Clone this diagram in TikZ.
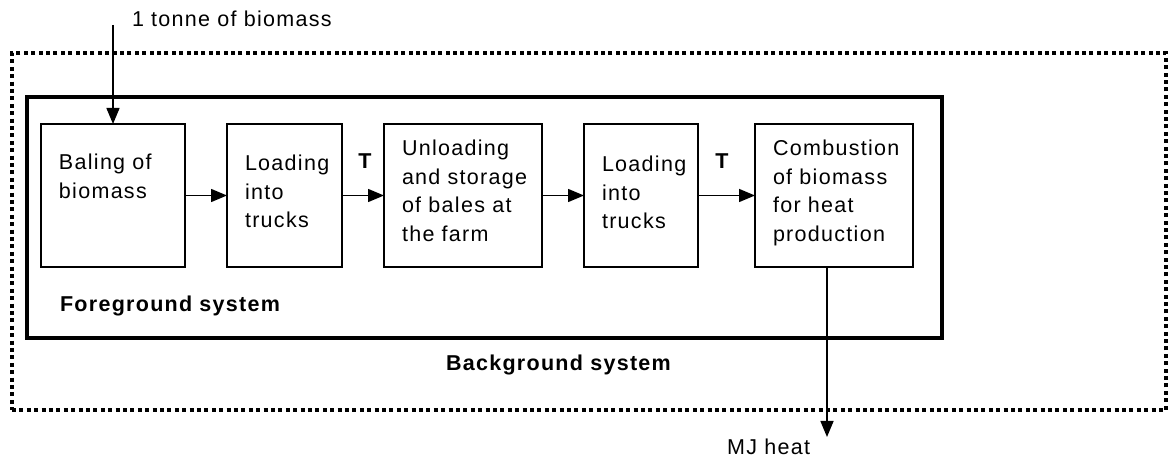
\documentclass[tikz,border=0pt]{standalone}
\usepackage{fontspec}
\setmainfont{Liberation Sans}[LetterSpace=6]
\usetikzlibrary{arrows.meta,calc}
\begin{document}
\begin{tikzpicture}[x=1bp,y=-1bp,
  every node/.style={inner sep=0pt, outer sep=0pt, font=\fontsize{21.5bp}{28.5bp}\selectfont},
  stagebox/.style={draw, line width=1.5bp, minimum height=143bp, rectangle},
  stagetext/.style={anchor=north west, align=left},
  flow/.style={line width=1.5bp, -{Triangle[length=16bp,width=13bp]}},
  lbl/.style={font=\fontsize{21.5bp}{28.5bp}\selectfont\bfseries}
]
\useasboundingbox (0,0) rectangle (1168,462);
% system boundaries
\node[draw, line width=4bp, dash pattern=on 4bp off 3.4bp, minimum width=1154bp, minimum height=357bp] (bg) at (589,231.5) {};
\node[draw, line width=4.5bp, minimum width=915bp, minimum height=241bp] (fg) at (484.5,217.5) {};
% process boxes
\node[stagebox, minimum width=144bp] (b1) at (113,195.5) {};
\node[stagebox, minimum width=115bp] (b2) at (284.5,195.5) {};
\node[stagebox, minimum width=158bp] (b3) at (463,195.5) {};
\node[stagebox, minimum width=114bp] (b4) at (641,195.5) {};
\node[stagebox, minimum width=158bp] (b5) at (834,195.5) {};
\node[stagetext] (t1) at ($(b1.north west)+(18,30)$) {Baling of\\biomass};
\node[stagetext] (t2) at ($(b2.north west)+(18,31)$) {Loading\\into\\trucks};
\node[stagetext] (t3) at ($(b3.north west)+(18,16)$) {Unloading\\and storage\\of bales at\\the farm};
\node[stagetext] (t4) at ($(b4.north west)+(18,32)$) {Loading\\into\\trucks};
\node[stagetext] (t5) at ($(b5.north west)+(18,16)$) {Combustion\\of biomass\\for heat\\production};
% flows
\draw[flow] (b1.east) -- (b2.west);
\draw[flow] (b2.east) -- (b3.west);
\draw[flow] (b3.east) -- (b4.west);
\draw[flow] (b4.east) -- (b5.west);
\node[lbl] (T1) at (365,161) {T};
\node[lbl] (T2) at (722,161) {T};
% input and output
\coordinate (in) at (113,25);
\draw[flow] (in) -- (b1.north);
\node[anchor=base west] (inl) at (132,27) {1 tonne of biomass};
\coordinate (out) at (827,437);
\draw[flow] (out |- b5.south) -- (out);
\node[anchor=base east] (outl) at (810,455) {MJ heat};
% system labels
\node[lbl, anchor=base west] (fgl) at (60,312) {Foreground system};
\node[lbl, anchor=base west] (bgl) at (446,371) {Background system};
\end{tikzpicture}
\end{document}
